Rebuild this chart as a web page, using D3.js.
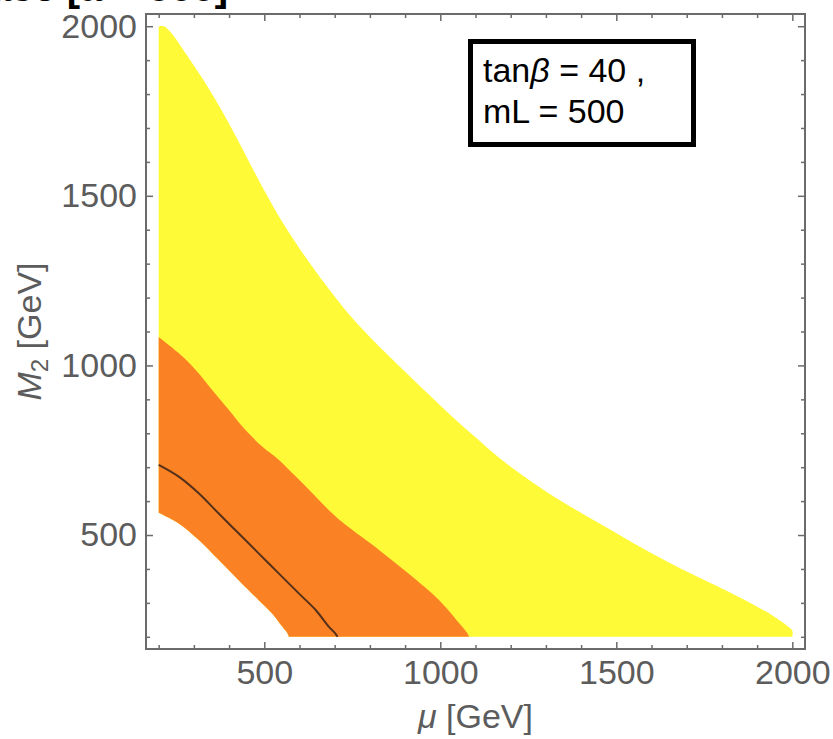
<!DOCTYPE html>
<html>
<head>
<meta charset="utf-8">
<script src="https://cdn.jsdelivr.net/npm/d3@7"></script>
<style>
  html, body { margin: 0; padding: 0; background: #fff; }
  svg { display: block; font-family: "Liberation Sans", Arial, Helvetica, sans-serif; }
</style>
</head>
<body>
<div id="chart"></div>
<script>
// Upper edge of the yellow region (mu, M2 in GeV)
const yellowMu = [200, 215, 240, 270, 300, 340, 380, 420, 460, 500, 550, 600, 650, 714, 750, 800, 850, 900, 950, 1000, 1050, 1100, 1169, 1250, 1350, 1454, 1549, 1644, 1738, 1834, 1891, 1948, 1986, 2000, 2000];
const yellowM2 = [2000, 2000, 1975, 1930, 1884, 1820, 1750, 1674, 1594, 1516, 1425, 1345, 1272, 1185, 1140, 1084, 1032, 981, 931, 882, 834, 788, 726, 664, 596, 533, 476, 422, 373, 325, 294, 260, 232, 218, 200];

// Upper edge of the orange region
const orangeUpMu = [200, 256, 304, 351, 399, 446, 494, 541, 589, 636, 683, 731, 826, 921, 997, 1054, 1076, 1082];
const orangeUpM2 = [1084, 1037, 988, 929, 869, 810, 761, 722, 673, 624, 574, 530, 456, 377, 308, 240, 212, 200];

// Lower edge of the orange region
const orangeLowMu = [200, 256, 313, 370, 427, 484, 522, 551, 566, 570];
const orangeLowM2 = [566, 535, 486, 427, 367, 308, 269, 230, 210, 200];

// Central contour line
const lineMu = [200, 256, 313, 370, 427, 484, 541, 598, 646, 683, 700, 708];
const lineM2 = [707, 673, 624, 564, 505, 446, 387, 328, 279, 230, 212, 200];

const xMajor = [500, 1000, 1500, 2000];
const yMajor = [500, 1000, 1500, 2000];
const minorTicks = d3.range(200, 2001, 100);

const width = 833, height = 739;
const plot = { left: 146, top: 14, right: 805, bottom: 649 };

const svg = d3.select('#chart')
    .append('svg')
    .attr('width', width)
    .attr('height', height);

const x = d3.scaleLinear().domain([164, 2036]).range([plot.left, plot.right]);
const y = d3.scaleLinear().domain([164, 2036]).range([plot.bottom, plot.top]);

svg.append('clipPath').attr('id', 'clip')
    .append('rect')
    .attr('x', plot.left).attr('y', plot.top)
    .attr('width', plot.right - plot.left)
    .attr('height', plot.bottom - plot.top);

const area = svg.append('g').attr('clip-path', 'url(#clip)');

const smooth = d3.line()
    .x(d => x(d[0]))
    .y(d => y(d[1]))
    .curve(d3.curveCatmullRom);

const pts = (mu, m2) => mu.map((m, i) => [m, m2[i]]);
// join several boundary pieces into one closed outline
const outline = (...pieces) => pieces.map((p, i) => {
    const d = smooth(p);
    return i === 0 ? d : 'L' + d.slice(1);
}).join('') + 'Z';

const yellowEdge = pts(yellowMu, yellowM2);
const upEdge = pts(orangeUpMu, orangeUpM2);
const lowEdge = pts(orangeLowMu, orangeLowM2);

// yellow region: from the lower orange edge up to the yellow edge
area.append('path')
    .attr('d', outline(yellowEdge, [[570, 200], [570, 200]], lowEdge.slice().reverse()))
    .attr('fill', '#fffa38');

// orange band
area.append('path')
    .attr('d', outline(upEdge, lowEdge.slice().reverse()))
    .attr('fill', '#fb8224');

// dark contour
area.append('path')
    .attr('d', smooth(pts(lineMu, lineM2)))
    .attr('fill', 'none')
    .attr('stroke', '#55301a')
    .attr('stroke-width', 2);

// Frame ticks (inward on all four sides)
const axisColor = '#6b6b6b';
function styleAxis(g) {
    g.select('.domain').remove();
    g.selectAll('line').attr('stroke', axisColor).attr('stroke-width', 1.5);
    g.selectAll('text')
        .attr('fill', '#5c5c5c')
        .style('font-size', '34px');
}

const xMinor = minorTicks.filter(v => !xMajor.includes(v));
const yMinor = minorTicks.filter(v => !yMajor.includes(v));

svg.append('g').attr('transform', `translate(0,${plot.bottom})`)
    .call(d3.axisBottom(x).tickValues(xMinor).tickSize(-4).tickFormat(''))
    .call(styleAxis);
svg.append('g').attr('transform', `translate(0,${plot.bottom})`)
    .call(d3.axisBottom(x).tickValues(xMajor).tickSize(-7).tickPadding(11).tickFormat(d3.format('d')))
    .call(styleAxis);
svg.append('g').attr('transform', `translate(0,${plot.top})`)
    .call(d3.axisTop(x).tickValues(xMinor).tickSize(-4).tickFormat(''))
    .call(styleAxis);
svg.append('g').attr('transform', `translate(0,${plot.top})`)
    .call(d3.axisTop(x).tickValues(xMajor).tickSize(-7).tickFormat(''))
    .call(styleAxis);

svg.append('g').attr('transform', `translate(${plot.left},0)`)
    .call(d3.axisLeft(y).tickValues(yMinor).tickSize(-4).tickFormat(''))
    .call(styleAxis);
svg.append('g').attr('transform', `translate(${plot.left},0)`)
    .call(d3.axisLeft(y).tickValues(yMajor).tickSize(-7).tickPadding(9).tickFormat(d3.format('d')))
    .call(styleAxis);
svg.append('g').attr('transform', `translate(${plot.right},0)`)
    .call(d3.axisRight(y).tickValues(yMinor).tickSize(-4).tickFormat(''))
    .call(styleAxis);
svg.append('g').attr('transform', `translate(${plot.right},0)`)
    .call(d3.axisRight(y).tickValues(yMajor).tickSize(-7).tickFormat(''))
    .call(styleAxis);

// frame
svg.append('rect')
    .attr('x', plot.left).attr('y', plot.top)
    .attr('width', plot.right - plot.left)
    .attr('height', plot.bottom - plot.top)
    .attr('fill', 'none')
    .attr('stroke', axisColor)
    .attr('stroke-width', 2);

// axis titles
const xTitle = svg.append('text')
    .attr('x', (plot.left + plot.right) / 2)
    .attr('y', 728)
    .attr('text-anchor', 'middle')
    .attr('fill', '#5c5c5c')
    .style('font-size', '34px');
xTitle.append('tspan').style('font-style', 'italic').text('μ');
xTitle.append('tspan').text(' [GeV]');

const yTitle = svg.append('text')
    .attr('transform', `translate(41,${(plot.top + plot.bottom) / 2}) rotate(-90)`)
    .attr('text-anchor', 'middle')
    .attr('fill', '#5c5c5c')
    .style('font-size', '34px');
yTitle.append('tspan').style('font-style', 'italic').text('M');
yTitle.append('tspan').attr('dy', 7).style('font-size', '24px').text('2');
yTitle.append('tspan').attr('dy', -7).text(' [GeV]');

// label box
svg.append('rect')
    .attr('x', 470.5).attr('y', 41.5)
    .attr('width', 223).attr('height', 103)
    .attr('fill', '#fff')
    .attr('stroke', '#000')
    .attr('stroke-width', 5);

const l1 = svg.append('text').attr('x', 483).attr('y', 82)
    .attr('fill', '#000').style('font-size', '34px');
l1.append('tspan').text('tan');
l1.append('tspan').style('font-style', 'italic').text('β');
l1.append('tspan').text(' = 40 ,');

svg.append('text').attr('x', 483).attr('y', 123)
    .attr('fill', '#000').style('font-size', '34px')
    .text('mL = 500');

// title, cut off at the top edge of the picture as in the original
svg.append('text')
    .attr('x', 228).attr('y', 1)
    .attr('text-anchor', 'end')
    .attr('fill', '#000')
    .style('font-size', '40px')
    .style('font-weight', 'bold')
    .text('Case [a = 500]');
</script>
</body>
</html>
